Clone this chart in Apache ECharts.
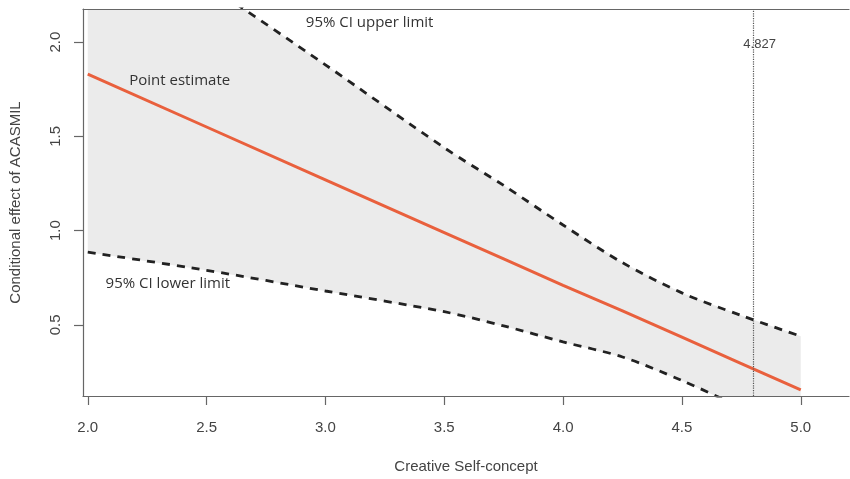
<!DOCTYPE html>
<html>
<head>
<meta charset="utf-8">
<script src="https://cdn.jsdelivr.net/npm/echarts@6/dist/echarts.min.js"></script>
<style>
  html, body { margin: 0; padding: 0; background: #fff; }
  #chart { width: 850px; height: 479px; }
</style>
</head>
<body>
<div id="chart"></div>
<script>
// values
const xValues = [2.0, 2.5, 3.0, 3.5, 3.75, 4.0, 4.25, 4.5, 4.75, 5.0];
const estimate = [1.83, 1.55, 1.27, 0.99, 0.85, 0.71, 0.575, 0.435, 0.295, 0.155];
const upper = [2.74, 2.31, 1.88, 1.44, 1.24, 1.03, 0.83, 0.67, 0.55, 0.44];
const lower = [0.886, 0.79, 0.68, 0.57, 0.495, 0.41, 0.33, 0.205, 0.06, -0.10];
const xTicks = [2.0, 2.5, 3.0, 3.5, 4.0, 4.5, 5.0];
const yTicks = [0.5, 1.0, 1.5, 2.0];
const jnLine = 4.8;
const jnLabel = '4.827';

const pairs = (ys) => xValues.map((x, i) => [x, ys[i]]);

const axisColor = '#666';
const labelFont = { color: '#444', fontFamily: 'Liberation Sans', fontSize: 15 };
const noteFont = { color: '#333', fontFamily: 'Open Sans', fontSize: 15 };
const dashStyle = { color: '#222', width: 2.8, type: [8, 7] };

// grey confidence band: upper edge forward, lower edge back
function renderBand(params, api) {
  const pts = [];
  xValues.forEach((x, i) => pts.push(api.coord([x, upper[i]])));
  for (let i = xValues.length - 1; i >= 0; i--) pts.push(api.coord([xValues[i], lower[i]]));
  return {
    type: 'polygon',
    shape: { points: pts },
    style: { fill: '#ebebeb', stroke: null }
  };
}

const chart = echarts.init(document.getElementById('chart'));
chart.setOption({
  animation: false,
  backgroundColor: '#fff',
  grid: { left: 83, top: 9, right: 1, bottom: 82 },
  xAxis: [
    {
      type: 'value',
      min: 1.98,
      max: 5.203,
      z: 10,
      name: 'Creative Self-concept',
      nameLocation: 'middle',
      nameGap: 63,
      nameTextStyle: labelFont,
      axisLine: { lineStyle: { color: axisColor, width: 1.2 } },
      axisTick: { customValues: xTicks, length: 9, lineStyle: { color: axisColor, width: 1.2 } },
      axisLabel: { customValues: xTicks, margin: 24, ...labelFont, formatter: (v) => v.toFixed(1) },
      splitLine: { show: false }
    },
    {
      type: 'value',
      position: 'top',
      min: 1.98,
      max: 5.203,
      z: 10,
      axisLine: { show: true, lineStyle: { color: axisColor, width: 1.2 } },
      axisTick: { show: false },
      axisLabel: { show: false },
      splitLine: { show: false }
    }
  ],
  yAxis: {
    type: 'value',
    min: 0.123,
    max: 2.176,
    z: 10,
    name: 'Conditional effect of ACASMIL',
    nameLocation: 'middle',
    nameGap: 60,
    nameRotate: 90,
    nameTextStyle: labelFont,
    axisLine: { show: true, lineStyle: { color: axisColor, width: 1.2 } },
    axisTick: { show: true, customValues: yTicks, length: 9, lineStyle: { color: axisColor, width: 1.2 } },
    axisLabel: { customValues: yTicks, rotate: 90, margin: 20, ...labelFont, formatter: (v) => v.toFixed(1) },
    splitLine: { show: false }
  },
  series: [
    {
      name: 'band',
      type: 'custom',
      clip: true,
      silent: true,
      data: [0],
      renderItem: renderBand,
      z: 1,
      markLine: {
        silent: true,
        symbol: 'none',
        label: { show: false },
        lineStyle: { type: 'dotted', color: '#555', width: 1.2 },
        data: [{ xAxis: jnLine }]
      }
    },
    {
      name: '95% CI upper limit',
      type: 'line',
      data: pairs(upper),
      symbol: 'none',
      smooth: 0.3,
      lineStyle: dashStyle,
      markPoint: {
        symbolSize: 0,
        label: { show: true, formatter: '{b}', ...noteFont },
        data: [{ name: '95% CI upper limit', coord: [3.186, 2.102] }]
      }
    },
    {
      name: '95% CI lower limit',
      type: 'line',
      data: pairs(lower),
      symbol: 'none',
      smooth: 0.3,
      lineStyle: dashStyle,
      markPoint: {
        symbolSize: 0,
        label: { show: true, formatter: '{b}', ...noteFont },
        data: [{ name: '95% CI lower limit', coord: [2.337, 0.717] }]
      }
    },
    {
      name: 'Point estimate',
      type: 'line',
      data: pairs(estimate),
      symbol: 'none',
      lineStyle: { color: '#e9603d', width: 3 },
      markPoint: {
        symbolSize: 0,
        label: { show: true, formatter: '{b}', ...noteFont },
        data: [
          { name: 'Point estimate', coord: [2.387, 1.795] },
          {
            name: jnLabel,
            coord: [4.827, 1.99],
            label: { color: '#444', fontFamily: 'Liberation Sans', fontSize: 13 }
          }
        ]
      }
    }
  ]
});
</script>
</body>
</html>
